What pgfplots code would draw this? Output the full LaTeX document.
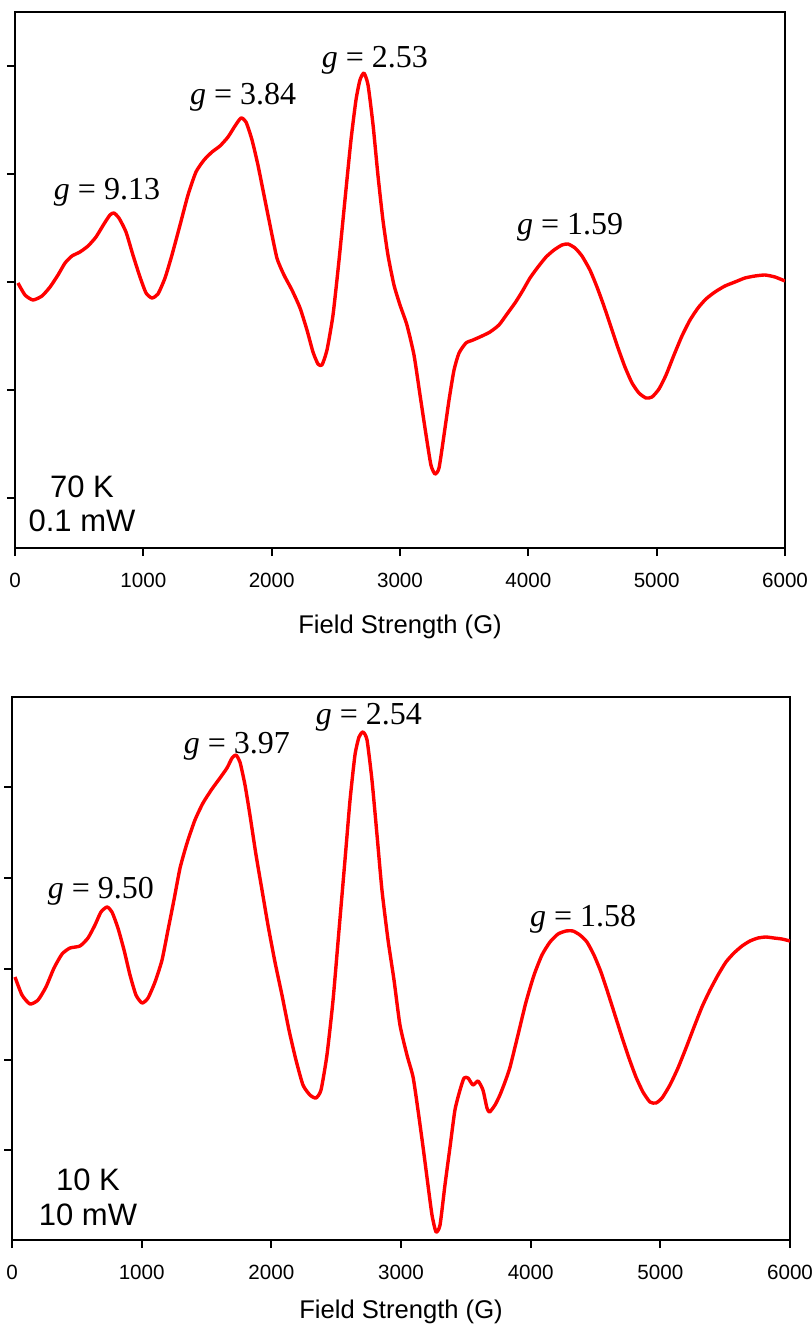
\documentclass[border=0pt]{standalone}
\usepackage{fontspec}
\setmainfont{Liberation Serif}
\newfontfamily\arial{Liberation Sans}
\usepackage{pgfplots}
\pgfplotsset{compat=1.18}

\pgfplotsset{
  epr/.style={
    scale only axis,
    xmin=0, xmax=6000,
    xtick={0,1000,...,6000},
    tick align=outside,
    xtick pos=bottom, ytick pos=left,
    major tick length=4pt,
    yticklabels={},
    axis line style={line width=1pt},
    every tick/.style={line width=1pt, black},
    /pgf/number format/assume math mode=true,
    /pgf/number format/1000 sep={},
    xticklabel style={font=\arial\fontsize{10.3}{12}\selectfont, anchor=center, yshift=-12pt},
    every axis x label/.style={at={(axis description cs:0.5,0)}, anchor=center,
      font=\arial\fontsize{12.8}{15}\selectfont},
    xlabel={Field Strength (G)},
  },
  trace/.style={red, line width=1.7pt, line join=round, smooth, tension=0.35},
}
\tikzset{
  glab/.style={font=\fontsize{16}{18}\selectfont, inner sep=0pt},
  tlab/.style={font=\arial\fontsize{15.5}{18}\selectfont, inner sep=0pt},
}

\begin{document}
\begin{tikzpicture}
\path[use as bounding box] (0,0) rectangle (406pt,-666pt);

% 70 K, 0.1 mW
\begin{axis}[epr,
  at={(7.5pt,-274pt)}, anchor=south west,
  width=385pt, height=268pt,
  ymin=-266, ymax=270,
  ytick={-216,-108,0,108,216},
  every axis x label/.append style={yshift=-39.5pt},
]
\addplot[trace] coordinates {
(23,-1)(78,-13)(140,-18)(210,-14)(273,-5)(335,7)(390,19)(444,26)(506,30)(569,36)
(631,45)(693,58)(740,67)(771,69)(810,64)(865,50)(919,27)(974,5)(1021,-11)(1067,-16)
(1114,-12)(1169,4)(1223,27)(1286,57)(1348,87)(1410,110)(1473,122)(1535,130)(1597,136)(1660,145)
(1714,156)(1761,164)(1800,160)(1847,142)(1893,117)(1940,87)(1987,57)(2041,24)(2096,7)(2158,-8)
(2221,-26)(2275,-48)(2322,-70)(2361,-82)(2392,-83)(2431,-68)(2478,-33)(2525,22)(2571,82)(2618,142)
(2657,182)(2688,202)(2719,209)(2751,197)(2790,157)(2828,107)(2867,62)(2906,27)(2953,-3)(3000,-23)
(3054,-43)(3109,-73)(3156,-113)(3203,-153)(3241,-183)(3273,-192)(3304,-186)(3343,-153)(3382,-118)(3421,-88)
(3460,-71)(3514,-61)(3569,-58)(3639,-54)(3701,-50)(3771,-43)(3834,-32)(3896,-21)(3950,-10)(4013,4)
(4075,15)(4138,25)(4200,32)(4262,37)(4309,38)(4364,34)(4418,26)(4480,12)(4535,-5)(4589,-24)
(4644,-45)(4699,-66)(4753,-85)(4808,-101)(4862,-111)(4917,-116)(4964,-115)(5018,-107)(5073,-93)(5135,-73)
(5197,-54)(5260,-38)(5322,-26)(5384,-17)(5454,-10)(5532,-4)(5610,0)(5688,4)(5766,6)(5844,7)
(5922,5)(6000,1)
};
\node[glab] at (axis cs:717,90) {\textit{g} = 9.13};
\node[glab] at (axis cs:1777,185) {\textit{g} = 3.84};
\node[glab] at (axis cs:2805,222) {\textit{g} = 2.53};
\node[glab] at (axis cs:4325,55) {\textit{g} = 1.59};
\node[tlab] at (axis cs:522,-205) {70 K};
\node[tlab] at (axis cs:522,-239) {0.1 mW};
\end{axis}

% 10 K, 10 mW
\begin{axis}[epr,
  at={(6pt,-620pt)}, anchor=south west,
  width=389pt, height=271.5pt,
  ymin=-271, ymax=272,
  ytick={-181,-91,0,91,182},
  every axis x label/.append style={yshift=-36pt},
]
\addplot[trace] coordinates {
(23,-8)(77,-26)(139,-35)(201,-31)(262,-18)(324,1)(386,15)(447,21)(524,23)(586,31)
(640,44)(686,57)(733,62)(771,57)(817,41)(864,19)(910,-6)(956,-26)(1003,-34)(1049,-29)
(1103,-13)(1157,9)(1203,39)(1249,69)(1296,101)(1350,126)(1411,149)(1473,166)(1542,180)(1604,191)
(1658,201)(1697,211)(1727,214)(1758,207)(1797,184)(1835,154)(1882,114)(1928,79)(1974,44)(2028,7)
(2082,-26)(2136,-61)(2190,-91)(2244,-116)(2298,-126)(2344,-129)(2383,-121)(2429,-86)(2476,-31)(2522,39)
(2568,109)(2607,169)(2645,214)(2676,232)(2707,237)(2738,229)(2776,189)(2815,134)(2853,79)(2900,29)
(2946,-11)(2992,-56)(3046,-86)(3093,-108)(3131,-141)(3170,-178)(3208,-216)(3239,-246)(3270,-263)(3301,-256)
(3339,-216)(3378,-178)(3416,-141)(3455,-121)(3486,-109)(3517,-109)(3555,-116)(3594,-112)(3632,-121)(3663,-139)
(3683,-143)(3725,-136)(3763,-126)(3802,-113)(3841,-98)(3902,-66)(3964,-33)(4026,-6)(4087,14)(4149,27)
(4211,35)(4272,38)(4326,38)(4380,34)(4434,27)(4488,14)(4542,-3)(4596,-24)(4650,-46)(4704,-68)
(4758,-89)(4812,-108)(4866,-123)(4920,-133)(4966,-134)(5013,-129)(5074,-116)(5136,-99)(5198,-79)(5260,-58)
(5321,-38)(5383,-21)(5445,-6)(5506,7)(5568,16)(5630,23)(5691,28)(5753,31)(5815,32)(5876,31)
(5938,30)(6000,28)
};
\node[glab] at (axis cs:686,78) {\textit{g} = 9.50};
\node[glab] at (axis cs:1735,223) {\textit{g} = 3.97};
\node[glab] at (axis cs:2753,252) {\textit{g} = 2.54};
\node[glab] at (axis cs:4404,50) {\textit{g} = 1.58};
\node[tlab] at (axis cs:586,-211) {10 K};
\node[tlab] at (axis cs:586,-246) {10 mW};
\end{axis}
\end{tikzpicture}
\end{document}
